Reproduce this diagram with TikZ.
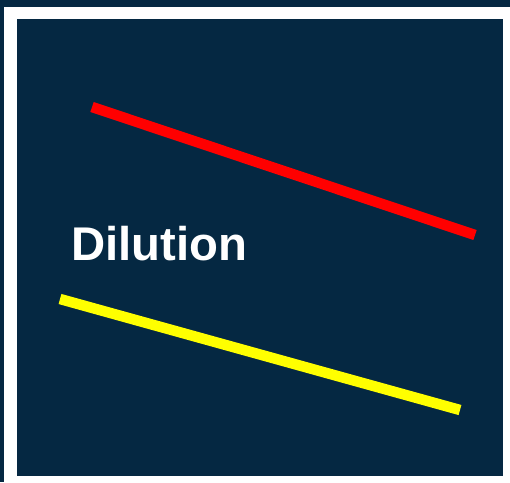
\documentclass[tikz,border=0pt]{standalone}
\usepackage{fontspec}
\setmainfont{Liberation Sans}
\usetikzlibrary{positioning}
\definecolor{PanelNavy}{HTML}{052842}
\definecolor{LineRed}{HTML}{FF0000}
\definecolor{LineYellow}{HTML}{FFFF00}

\begin{document}
\begin{tikzpicture}[
    x=1pt,y=-1pt,
    band/.style={line width=10.5pt},
    hiband/.style={band,draw=LineRed},
    loband/.style={band,draw=LineYellow},
    tag/.style={text=white,font=\fontsize{47.3}{56}\selectfont\bfseries,inner sep=0pt,anchor=base west}
  ]
    \useasboundingbox (0,0) rectangle (510,482);
    \fill[PanelNavy] (0,0) rectangle (510,482);
    \fill[white] (4,7) rectangle (510,482);
    \fill[PanelNavy] (16.5,19) rectangle (503,476);

    \coordinate (rstart) at (92,107);
    \coordinate (rend) at (475,235);
    \coordinate (ystart) at (60,299);
    \coordinate (yend) at (460,410);
    \draw[hiband] (rstart)--(rend);
    \draw[loband] (ystart)--(yend);

    \node[tag] (dlabel) at (71,260) {Dilution};
  \end{tikzpicture}
\end{document}
